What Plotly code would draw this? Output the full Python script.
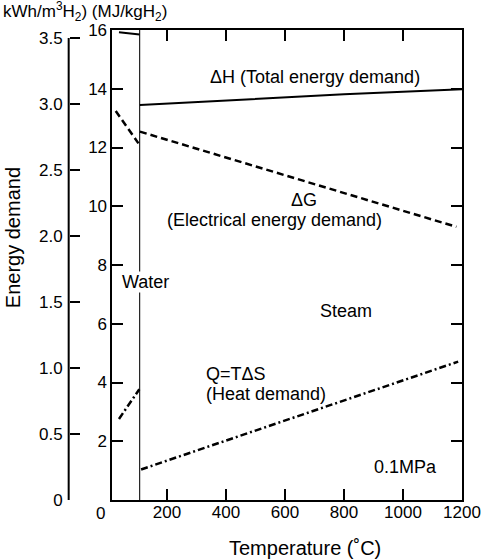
import plotly.graph_objects as go

# ---- data (temperature in °C, energy in MJ/kgH2 as labelled on the inner axis) ----
water_T = [37, 107]
steam_T = [108, 400, 800, 1200]

dH_water = [15.92, 15.85]
dH_steam = [13.45, 13.61, 13.81, 13.98]

dG_water_T = [26, 103]
dG_water = [13.24, 12.14]
dG_steam_T = [108, 600, 1181]
dG_steam = [12.54, 11.05, 9.30]

Q_water_T = [37, 106]
Q_water = [2.76, 3.77]
Q_steam_T = [112, 600, 1187]
Q_steam = [1.04, 2.70, 4.71]

boundary_T = 107  # water / steam boundary line

x_ticks = [200, 400, 600, 800, 1000, 1200]
mj_ticks = [2, 4, 6, 8, 10, 12, 14, 16]
kwh_ticks = [0, 0.5, 1.0, 1.5, 2.0, 2.5, 3.0, 3.5]
kwh_labels = ["0", "0.5", "1.0", "1.5", "2.0", "2.5", "3.0", "3.5"]

FONT = "Liberation Sans, Arial, Helvetica, sans-serif"
W, H = 493, 559
ML, MR, MT, MB = 20, 19, 30, 59
PW = W - ML - MR
PH = H - MT - MB
px2fx = lambda px: (px - ML) / PW
px2fy = lambda py: (H - MB - py) / PH

fig = go.Figure()

lw_solid = 2
fig.add_trace(go.Scatter(x=[boundary_T, boundary_T], y=[0, 16], mode="lines",
                         line=dict(color="#222", width=1.2), showlegend=False))
fig.add_trace(go.Scatter(x=water_T, y=dH_water, mode="lines",
                         line=dict(color="black", width=lw_solid), showlegend=False))
fig.add_trace(go.Scatter(x=steam_T, y=dH_steam, mode="lines",
                         line=dict(color="black", width=lw_solid), showlegend=False))
dash_g = "7px,4px"
fig.add_trace(go.Scatter(x=dG_water_T, y=dG_water, mode="lines",
                         line=dict(color="black", width=2.5, dash=dash_g), showlegend=False))
fig.add_trace(go.Scatter(x=dG_steam_T, y=dG_steam, mode="lines",
                         line=dict(color="black", width=2.5, dash=dash_g), showlegend=False))
dash_q = "7px,3px,2px,3px"
fig.add_trace(go.Scatter(x=Q_water_T, y=Q_water, mode="lines",
                         line=dict(color="black", width=2.5, dash=dash_q), showlegend=False))
fig.add_trace(go.Scatter(x=Q_steam_T, y=Q_steam, mode="lines",
                         line=dict(color="black", width=2.5, dash=dash_q), showlegend=False))
# invisible trace to activate the outer kWh axis
fig.add_trace(go.Scatter(x=[600], y=[1], yaxis="y2", mode="markers",
                         marker=dict(opacity=0), showlegend=False, hoverinfo="skip"))

tickfont = dict(family=FONT, size=17, color="black")
ann_font = dict(family=FONT, size=18, color="black")

fig.update_layout(
    width=W, height=H,
    margin=dict(l=ML, r=MR, t=MT, b=MB),
    paper_bgcolor="white", plot_bgcolor="white",
    xaxis=dict(domain=[px2fx(115), 1], range=[15, 1200], tickvals=x_ticks,
               ticks="inside", ticklen=11, tickwidth=1.5, tickcolor="black",
               ticklabelstandoff=-4,
               showline=True, linewidth=2, linecolor="black", mirror="ticks",
               showgrid=False, zeroline=False, tickfont=tickfont, anchor="y"),
    yaxis=dict(range=[0, 16], tickvals=mj_ticks, ticks="inside", ticklen=11,
               tickwidth=1.5, tickcolor="black",
               showline=True, linewidth=2, linecolor="black", mirror="ticks",
               showgrid=False, zeroline=False, tickfont=tickfont, anchor="x"),
    yaxis2=dict(range=[0, 3.56], tickvals=kwh_ticks, ticktext=kwh_labels,
                overlaying="y", anchor="free", position=px2fx(70), side="left",
                ticks="inside", ticklen=10, tickwidth=1.5, tickcolor="black",
                ticklabelstandoff=6,
                showline=False, showgrid=False, zeroline=False, tickfont=tickfont),
)

# outer axis line (only up to 3.5)
fig.add_shape(type="line", xref="paper", yref="y2", x0=px2fx(70), x1=px2fx(70),
              y0=0, y1=3.5, line=dict(color="black", width=2))

anns = [
    dict(x=700, y=14.41, text="ΔH (Total energy demand)"),
    dict(x=665, y=10.21, text="ΔG"),
    dict(x=563, y=9.53, text="(Electrical energy demand)"),
    dict(x=807, y=6.43, text="Steam"),
    dict(x=1008, y=1.13, text="0.1MPa"),
]
for a in anns:
    fig.add_annotation(**a, xref="x", yref="y", xanchor="center", yanchor="middle",
                       showarrow=False, font=ann_font)
fig.add_annotation(x=325, y=4.29, text="Q=TΔS", xref="x", yref="y", xanchor="left",
                   yanchor="middle", showarrow=False, font=ann_font)
fig.add_annotation(x=325, y=3.61, text="(Heat demand)", xref="x", yref="y", xanchor="left",
                   yanchor="middle", showarrow=False, font=ann_font)
fig.add_annotation(x=127, y=7.42, text="Water", xref="x", yref="y", showarrow=False,
                   xanchor="center", yanchor="middle",
                   font=ann_font, bgcolor="white", borderpad=0)
# "0" tick label at the axis origin
fig.add_annotation(x=px2fx(103), y=px2fy(513), xref="paper", yref="paper", text="0",
                   xanchor="center", yanchor="middle", showarrow=False, font=tickfont)
# axis titles
fig.add_annotation(x=px2fx(313), y=px2fy(548), xref="paper", yref="paper",
                   xanchor="center", yanchor="middle",
                   text="Temperature (˚C)", showarrow=False,
                   font=dict(family=FONT, size=20, color="black"))
fig.add_annotation(x=px2fx(13), y=px2fy(238), xref="paper", yref="paper",
                   xanchor="center", yanchor="middle",
                   text="Energy demand", textangle=-90, showarrow=False,
                   font=dict(family=FONT, size=20, color="black"))
fig.add_annotation(x=px2fx(0), y=px2fy(2), xref="paper", yref="paper", xanchor="left",
                   yanchor="top", yshift=5,
                   text="kWh/m<sup>3</sup>H<sub>2</sub>) (MJ/kgH<sub>2</sub>)",
                   showarrow=False, font=dict(family=FONT, size=17, color="black"))

fig.write_html("out.html")
